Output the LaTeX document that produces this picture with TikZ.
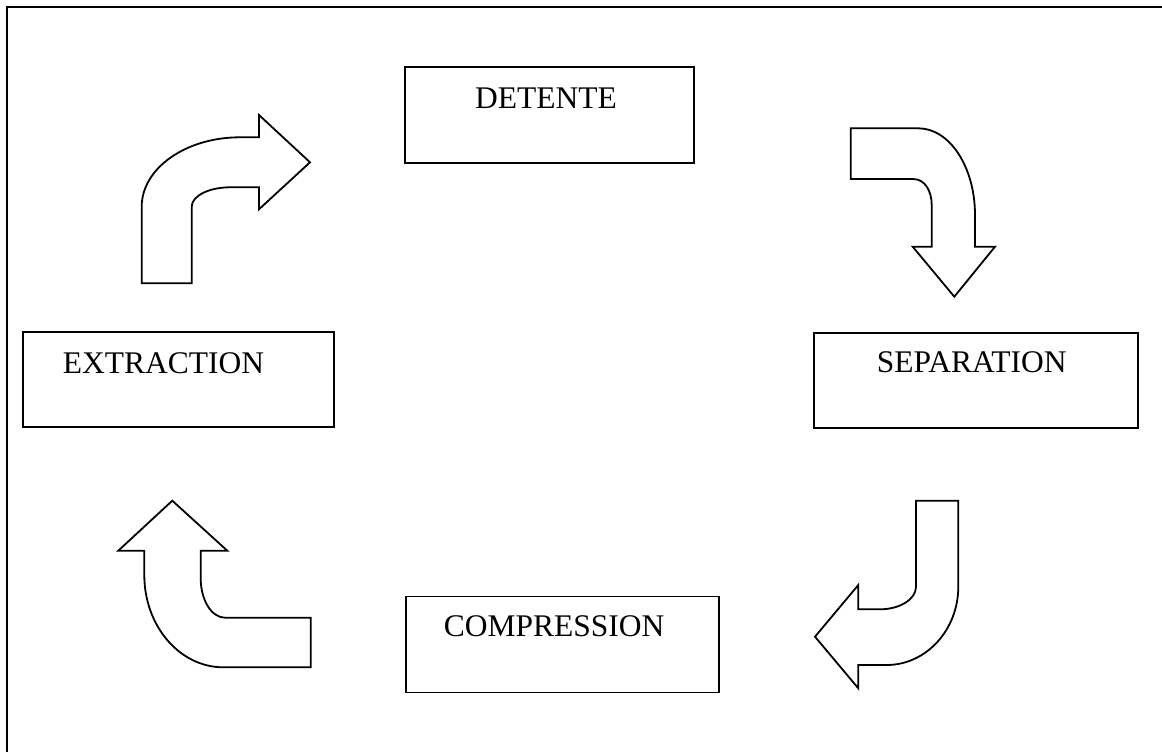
\documentclass[tikz,border=0pt]{standalone}
\usepackage{fontspec}
\setmainfont{Liberation Serif}
\begin{document}
\begin{tikzpicture}[x=1pt,y=-1pt,
  box/.style={draw=black,line width=1.9pt,rectangle,inner sep=0pt},
  lbl/.style={anchor=base west,inner sep=0pt,font=\fontsize{31.5}{36}\selectfont},
  blockarrow/.style={draw=black,line width=1.8pt,line join=miter,fill=white},
  frame/.style={draw=black,line width=2.8pt}]
\useasboundingbox (0,0) rectangle (1162,752);
\draw[frame] (7,752) -- (7,7) -- (1162,7);
% boxes
\node[box,minimum width=289pt,minimum height=96pt] (detente) at (549.5,115.3) {};
\node[box,minimum width=311pt,minimum height=95pt] (extraction) at (178.8,379.8) {};
\node[box,minimum width=324pt,minimum height=95pt] (separation) at (976.2,380.4) {};
\node[box,minimum width=313pt,minimum height=96pt] (compression) at (562.8,644.5) {};
% labels
\node[lbl] (tdetente) at (475,108.3) {DETENTE};
\node[lbl] (textraction) at (62.7,373.3) {EXTRACTION};
\node[lbl] (tseparation) at (876.7,372) {SEPARATION};
\node[lbl] (tcompression) at (443.7,636.7) {COMPRESSION};
% arrow top-left
\draw[blockarrow] (141.7,283.3) -- (191.7,283.3) -- (191.7,206.7)
  .. controls (191.7,196) and (208.9,187.3) .. (230,187.3)
  -- (259,187.3) -- (259,209.3) -- (310,162.3) -- (259,115) -- (259,137.3) -- (240,137.3)
  .. controls (185.7,137.3) and (141.7,168.4) .. (141.7,206.7) -- cycle;
% arrow top-right
\draw[blockarrow] (850.7,128.3) -- (918.3,128.3)
  .. controls (949.6,128.3) and (975,167) .. (975,215)
  -- (975,246.7) -- (995,246.7) -- (954.3,296.7) -- (912.7,246.7) -- (931.7,246.7) -- (931.7,205)
  .. controls (931.7,191) and (925,179) .. (913,179)
  -- (850.7,179) -- cycle;
% arrow bottom-right
\draw[blockarrow] (916,500.7) -- (958.3,500.7) -- (958.3,586.7)
  .. controls (958.3,629.8) and (926.2,665) .. (886.7,665)
  -- (858.3,665) -- (858.3,688.3) -- (815,636.7) -- (858.3,585) -- (858.3,609.3) -- (880,609.3)
  .. controls (899.9,609.3) and (916,599.2) .. (916,586.7) -- cycle;
% arrow bottom-left
\draw[blockarrow] (172.3,500.7) -- (227.3,550.7) -- (200.7,550.7) -- (200.7,578.3)
  .. controls (200.7,600.1) and (211.6,617.7) .. (225,617.7)
  -- (310.7,617.7) -- (310.7,667.3) -- (223.3,667.3)
  .. controls (179.7,667.3) and (144.3,626) .. (144.3,575)
  -- (144.3,550.7) -- (118.3,550.7) -- cycle;
\end{tikzpicture}
\end{document}
